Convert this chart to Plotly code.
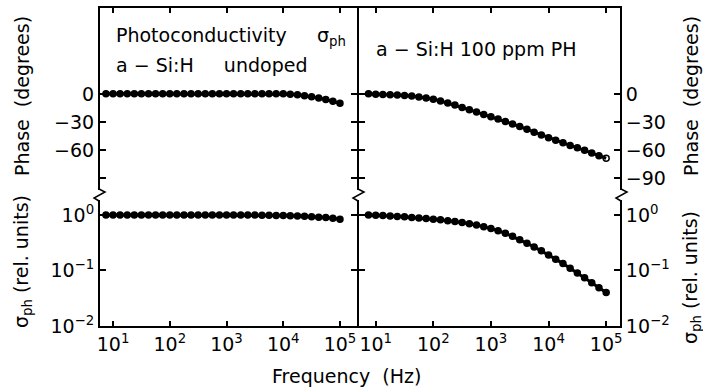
import plotly.graph_objects as go
from plotly.subplots import make_subplots

# ---------------- data ----------------
freq_hz = [7.5, 10, 13.3, 17.8, 23.7, 31.6, 42.2, 56.2, 75, 100, 133, 178, 237, 316,
           422, 562, 750, 1000, 1330, 1780, 2370, 3160, 4220, 5620, 7500, 10000,
           13300, 17800, 23700, 31600, 42200, 56200, 75000, 100000]

undoped_phase = [0] * 26 + [-0.5, -1, -2, -3, -4.5, -6, -8, -10]
undoped_sigma = [1.0] * 22 + [0.99, 0.985, 0.98, 0.975, 0.965, 0.955, 0.945, 0.93,
                              0.915, 0.9, 0.875, 0.84]

doped_phase = [0, -0.3, -0.6, -0.9, -1.3, -1.8, -2.4, -3.3, -4.4, -5.8, -7.6, -9.8,
               -12.0, -14.5, -17.0, -19.5, -22.0, -24.5, -27.0, -29.5, -32.2, -35.0,
               -38.0, -41.0, -44.0, -47.0, -49.8, -52.5, -55.2, -57.8, -60.5, -63.3,
               -66.2, -69.0]
doped_sigma = [1.0, 0.989, 0.977, 0.962, 0.944, 0.925, 0.904, 0.885, 0.863, 0.841,
               0.817, 0.791, 0.764, 0.733, 0.698, 0.659, 0.617, 0.569, 0.519, 0.468,
               0.412, 0.359, 0.309, 0.266, 0.226, 0.191, 0.160, 0.133, 0.110, 0.090,
               0.074, 0.060, 0.049, 0.040]

freq_tickvals = [10, 100, 1000, 10000, 100000]
freq_ticktext = ["10<sup>1</sup>", "10<sup>2</sup>", "10<sup>3</sup>", "10<sup>4</sup>", "10<sup>5</sup>"]
phase_tickvals = [0, -30, -60, -90]
phase_ticktext_left = ["0", "\u221230", "\u221260", ""]
phase_ticktext_right = ["0", "\u221230", "\u221260", "\u221290"]
sigma_tickvals = [1, 0.1, 0.01]
sigma_ticktext = ["10<sup>0</sup>", "10<sup>\u22121</sup>", "10<sup>\u22122</sup>"]

# ---------------- layout constants ----------------
FONT = "DejaVu Sans"
FS = 19
W, H = 703, 392
ML, MR, MT, MB = 100, 83, 8, 66
PW, PH = W - ML - MR, H - MT - MB
SPLIT = (357 - ML) / PW
SPLIT2 = (359 - ML) / PW
PHASE_BOT = (H - MB - 190) / PH
AMP_TOP = (H - MB - 200) / PH

fig = make_subplots(rows=2, cols=2, horizontal_spacing=0, vertical_spacing=0.02)

def add_series(x, y, row, col, open_last=False):
    symbols = ["circle"] * len(y)
    if open_last:
        symbols[-1] = "circle-open"
    fig.add_trace(go.Scatter(x=x, y=y, mode="lines+markers",
                             line=dict(color="black", width=3),
                             marker=dict(color="black", size=6, symbol=symbols,
                                         line=dict(color="black", width=1.5)),
                             showlegend=False), row=row, col=col)

add_series(freq_hz, undoped_phase, 1, 1)
add_series(freq_hz, doped_phase, 1, 2, open_last=True)
add_series(freq_hz, undoped_sigma, 2, 1)
add_series(freq_hz, doped_sigma, 2, 2)

axfont = dict(family=FONT, size=FS, color="black")
common_x = dict(type="log", showgrid=False, zeroline=False, showline=True,
                linecolor="black", linewidth=2, ticks="inside", ticklen=5,
                tickcolor="black", tickwidth=1.5, tickfont=axfont,
                tickvals=freq_tickvals)
fig.update_layout(
    xaxis=dict(common_x, domain=[0, SPLIT], range=[0.77, 5.3], side="top",
               showticklabels=False, anchor="y"),
    xaxis2=dict(common_x, domain=[SPLIT2, 1], range=[0.71, 5.24], side="top",
                showticklabels=False, anchor="y2"),
    xaxis3=dict(common_x, domain=[0, SPLIT], range=[0.77, 5.3], side="bottom",
                ticktext=freq_ticktext, anchor="y3"),
    xaxis4=dict(common_x, domain=[SPLIT2, 1], range=[0.71, 5.24], side="bottom",
                ticktext=freq_ticktext, anchor="y4"),
)
common_y = dict(showgrid=False, zeroline=False, showline=True, linecolor="black",
                linewidth=2, ticks="inside", ticklen=6, tickcolor="black",
                tickwidth=1.5, mirror="ticks", tickfont=axfont)
fig.update_layout(
    yaxis=dict(common_y, domain=[PHASE_BOT, 1], range=[-103, 92],
               tickvals=phase_tickvals, ticktext=phase_ticktext_left, side="left",
               anchor="x"),
    yaxis2=dict(common_y, domain=[PHASE_BOT, 1], range=[-103, 92],
                tickvals=phase_tickvals, ticktext=phase_ticktext_right, side="right",
                anchor="x2"),
    yaxis3=dict(common_y, domain=[0, AMP_TOP], type="log", range=[-2, 0.27],
                tickvals=sigma_tickvals, ticktext=sigma_ticktext, side="left",
                anchor="x3"),
    yaxis4=dict(common_y, domain=[0, AMP_TOP], type="log", range=[-2, 0.27],
                tickvals=sigma_tickvals, ticktext=sigma_ticktext, side="right",
                anchor="x4"),
)

# axis break zigzags (decoration in paper coordinates)
def px2paper(px, py):
    return (px - ML) / PW, (H - MB - py) / PH

shapes = []
for xpx in [ML - 1, 358, W - MR + 1]:
    pts = [(xpx, 189), (xpx + 6, 192), (xpx - 5, 198), (xpx, 201)]
    pp = [px2paper(a, b) for a, b in pts]
    path = "M " + " L ".join(f"{a:.4f},{b:.4f}" for a, b in pp)
    shapes.append(dict(type="path", path=path, xref="paper", yref="paper",
                       line=dict(color="black", width=1.5)))

annotations = []
def ann(text, px, py, xanchor="left", yanchor="middle", angle=0, size=FS):
    x, y = px2paper(px, py)
    annotations.append(dict(text=text, x=x, y=y, xref="paper", yref="paper",
                            xanchor=xanchor, yanchor=yanchor, textangle=angle,
                            showarrow=False, font=dict(family=FONT, size=size, color="black")))

ann("Photoconductivity     \u03c3<sub>ph</sub>", 114, 37)
ann("a \u2212 Si:H     undoped", 114, 65)
ann("a \u2212 Si:H 100 ppm PH", 374, 49)
ann("Frequency  (Hz)", 346, 376, xanchor="center")
ann("Phase  (degrees)", 22, 96, xanchor="center", angle=-90)
ann("\u03c3<sub>ph</sub> (rel. units)", 22, 262, xanchor="center", angle=-90)
ann("Phase  (degrees)", 691, 96, xanchor="center", angle=-90)
ann("\u03c3<sub>ph</sub> (rel. units)", 691, 278, xanchor="center", angle=-90)

fig.update_layout(width=W, height=H, margin=dict(l=ML, r=MR, t=MT, b=MB),
                  paper_bgcolor="white", plot_bgcolor="white",
                  shapes=shapes, annotations=annotations,
                  font=dict(family=FONT, size=FS, color="black"))

fig.write_html("out.html", config={"displayModeBar": False},
               post_script="document.body.style.margin='0';document.body.style.overflow='hidden';")
